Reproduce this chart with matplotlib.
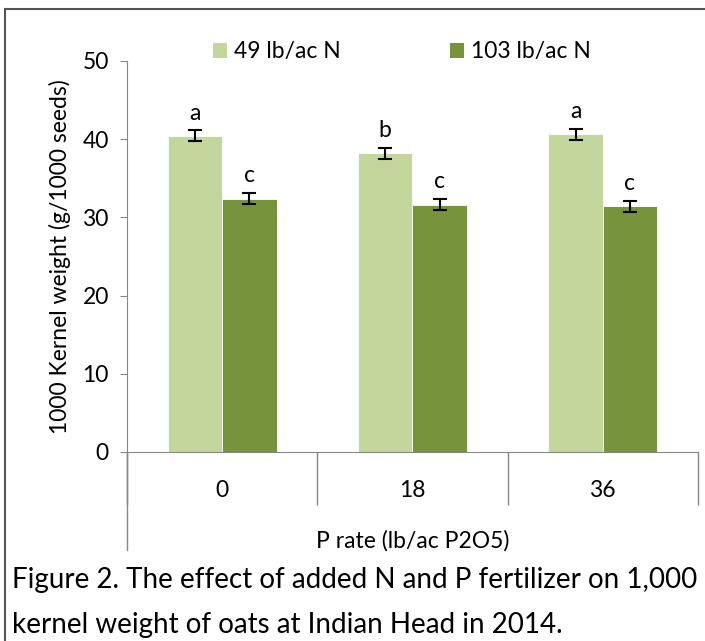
import matplotlib.pyplot as plt
import numpy as np
from matplotlib.patches import Patch
from matplotlib.lines import Line2D

plt.rcParams['font.family'] = ['Lato', 'DejaVu Sans']

# data
p_rates = ['0', '18', '36']
series_names = ['49 lb/ac N', '103 lb/ac N']
weight_49n = [40.4, 38.2, 40.6]
weight_103n = [32.4, 31.6, 31.4]
err_49n = [0.7, 0.7, 0.7]
err_103n = [0.7, 0.7, 0.7]
letters_49n = ['a', 'b', 'a']
letters_103n = ['c', 'c', 'c']

light = '#C3D69B'
dark = '#77933C'
grey = '#868686'
fs = 16.5

fig = plt.figure(figsize=(7.05, 6.41), dpi=100)
ax = fig.add_axes([0.180, 0.295, 0.810, 0.610])

x = np.arange(len(p_rates))
w = 0.286
ax.bar(x - w/2, weight_49n, w, color=light, edgecolor='white', linewidth=0.6, zorder=2)
ax.bar(x + w/2, weight_103n, w, color=dark, edgecolor='white', linewidth=0.6, zorder=2)
ax.errorbar(x - w/2, weight_49n, yerr=err_49n, fmt='none', ecolor='black',
            elinewidth=1.5, capsize=5, capthick=1.5, zorder=3)
ax.errorbar(x + w/2, weight_103n, yerr=err_103n, fmt='none', ecolor='black',
            elinewidth=1.5, capsize=5, capthick=1.5, zorder=3)

for xi, v, e, t in zip(x - w/2, weight_49n, err_49n, letters_49n):
    ax.annotate(t, (xi, v + e), xytext=(0, 5), textcoords='offset points',
                ha='center', va='bottom', fontsize=fs)
for xi, v, e, t in zip(x + w/2, weight_103n, err_103n, letters_103n):
    ax.annotate(t, (xi, v + e), xytext=(0, 5), textcoords='offset points',
                ha='center', va='bottom', fontsize=fs)

ax.set_xlim(-0.5, 2.5)
ax.set_ylim(0, 50)
ax.set_yticks([0, 10, 20, 30, 40, 50])
ax.tick_params(axis='y', direction='out', length=5, color=grey, labelsize=fs, pad=8)

# category labels between long separator ticks, Excel style
ax.set_xticks(x)
ax.set_xticklabels(p_rates, fontsize=fs)
ax.tick_params(axis='x', which='major', length=0, pad=20)
ax.set_xticks([-0.5, 0.5, 1.5, 2.5], minor=True)
ax.tick_params(axis='x', which='minor', direction='out', length=38, color=grey, width=1)

for s in ['top', 'right']:
    ax.spines[s].set_visible(False)
ax.spines['left'].set_color(grey)
ax.spines['bottom'].set_color(grey)
ax.plot([0, 0], [0, -0.25], transform=ax.transAxes, color=grey, lw=1, clip_on=False)

ax.set_xlabel('P rate (lb/ac P2O5)', fontsize=fs, labelpad=15)
ax.set_ylabel('1000 Kernel weight (g/1000 seeds)', fontsize=fs, labelpad=8)

handles = [Patch(facecolor=light), Patch(facecolor=dark)]
fig.legend(handles, series_names, loc='center', bbox_to_anchor=(0.570, 0.919), ncol=2,
           frameon=False, fontsize=fs, handlelength=0.6, handleheight=0.6,
           handletextpad=0.3, columnspacing=4.8)

fig.text(0.017, 0.095, 'Figure 2. The effect of added N and P fertilizer on 1,000',
         fontsize=20, va='center', ha='left')
fig.text(0.017, 0.025, 'kernel weight of oats at Indian Head in 2014.',
         fontsize=20, va='center', ha='left')

# outer frame (top and left edges visible)
fig.add_artist(Line2D([0.007, 1.0], [0.986, 0.986], color='#555555', lw=1.5))
fig.add_artist(Line2D([0.007, 0.007], [0.0, 0.986], color='#555555', lw=1.5))

fig.savefig('out.png', dpi=100)
